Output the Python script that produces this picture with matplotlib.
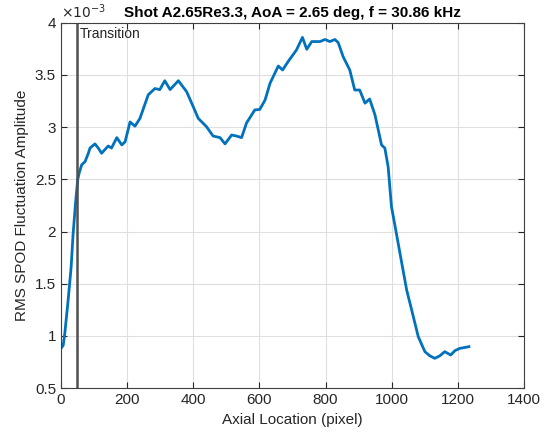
import numpy as np
import matplotlib.pyplot as plt

plt.rcParams['font.family'] = ['Liberation Sans', 'DejaVu Sans']

# RMS SPOD fluctuation amplitude along the model (units of 1e-3)
axial_px = [0, 7, 12, 22, 31, 37, 45, 51, 56, 63, 73, 83, 88, 103, 113, 123,
            143, 153, 169, 184, 194, 209, 224, 239, 264, 284, 299, 314, 330,
            355, 380, 400, 415, 440, 460, 481, 496, 516, 531, 546, 561, 586,
            601, 617, 632, 657, 670, 687, 712, 730, 743, 758, 783, 798, 813,
            828, 838, 853, 873, 888, 903, 919, 933, 949, 969, 979, 989, 999,
            1014, 1030, 1045, 1060, 1080, 1100, 1115, 1130, 1145, 1160, 1178,
            1191, 1206, 1221, 1233]
rms_amp = [0.88, 0.91, 1.03, 1.345, 1.66, 1.98, 2.30, 2.50, 2.57, 2.64, 2.67,
           2.75, 2.80, 2.84, 2.80, 2.75, 2.82, 2.80, 2.90, 2.83, 2.86, 3.05,
           3.01, 3.085, 3.31, 3.37, 3.36, 3.445, 3.36, 3.445, 3.34, 3.196,
           3.085, 3.005, 2.915, 2.90, 2.84, 2.925, 2.915, 2.90, 3.04, 3.165,
           3.17, 3.26, 3.42, 3.586, 3.548, 3.63, 3.74, 3.86, 3.746, 3.82,
           3.82, 3.84, 3.82, 3.84, 3.81, 3.675, 3.548, 3.356, 3.356, 3.23,
           3.27, 3.12, 2.83, 2.80, 2.62, 2.24, 1.98, 1.70, 1.44, 1.25, 0.993,
           0.85, 0.81, 0.786, 0.81, 0.85, 0.818, 0.86, 0.882, 0.89, 0.898]

transition_px = 50
title = 'Shot A2.65Re3.3, AoA = 2.65 deg, f = 30.86 kHz'

fig = plt.figure(figsize=(5.46, 4.38), dpi=100)
ax = fig.add_axes([0.1115, 0.1137, 0.8485, 0.8343])

ax.plot(axial_px, rms_amp, color='#0072BD', lw=2.0)
ax.axvline(transition_px, color='#505050', lw=1.8)
ax.text(transition_px + 8, 3.96, 'Transition', fontsize=10, va='top',
        ha='left', color='#262626')

ax.set_xlim(0, 1400)
ax.set_ylim(0.5, 4)
ax.set_xticks(np.arange(0, 1401, 200))
ax.set_yticks([0.5, 1, 1.5, 2, 2.5, 3, 3.5, 4])
ax.set_yticklabels(['0.5', '1', '1.5', '2', '2.5', '3', '3.5', '4'])

ax.grid(True, color='#dfdfdf', lw=0.8)
ax.set_axisbelow(True)
for s in ax.spines.values():
    s.set_color('#404040')
    s.set_linewidth(0.8)
ax.tick_params(direction='in', length=4, labelsize=11, colors='#262626',
               top=True, right=True)

ax.set_xlabel('Axial Location (pixel)', fontsize=11, color='#262626')
ax.set_ylabel('RMS SPOD Fluctuation Amplitude', fontsize=11, color='#262626')
ax.set_title(title, fontsize=11, fontweight='bold', pad=4)
ax.text(0.0, 1.005, r'$\times10^{-3}$', transform=ax.transAxes, fontsize=10,
        color='#262626', ha='left', va='bottom')

fig.savefig('out.png', dpi=100)
